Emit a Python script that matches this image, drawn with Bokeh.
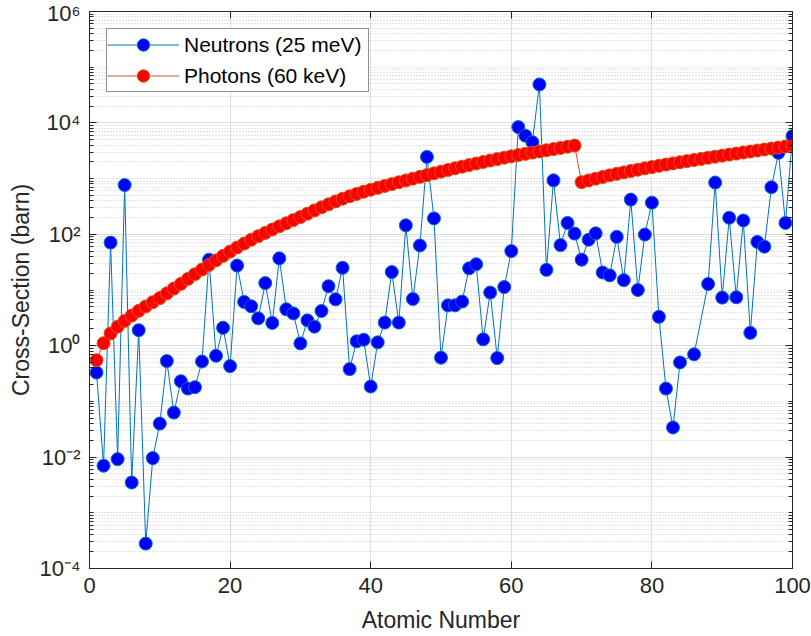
from bokeh.plotting import figure
from bokeh.models import (FixedTicker, LogAxis, LinearAxis, Legend, LegendItem,
                          CustomLabelingPolicy)
from bokeh.embed import file_html
from bokeh.resources import INLINE

# ---- data ----
neutron_z = list(range(1, 85)) + [86] + list(range(88, 101))
neutron_xs = [
    0.33, 0.007, 71, 0.0092, 767, 0.0035, 1.9, 0.00028, 0.0096, 0.04,
    0.53, 0.063, 0.23, 0.17, 0.18, 0.52, 35, 0.66, 2.1, 0.43,
    27.5, 6.1, 5.1, 3.1, 13.3, 2.56, 37, 4.5, 3.8, 1.1,
    2.85, 2.2, 4.2, 11.7, 6.8, 25, 0.38, 1.2, 1.28, 0.185,
    1.15, 2.6, 21, 2.6, 145, 6.9, 63, 2450, 193, 0.61,
    5.3, 5.3, 6.2, 24.5, 29, 1.3, 9, 0.6, 11.3, 50,
    8400, 5900, 4500, 49000, 23, 930, 64, 160, 103, 35,
    80, 104, 20.6, 18.3, 90, 15, 420, 10, 99, 370,
    3.3, 0.17, 0.034, 0.5,
    0.7,
    12.8, 850, 7.3, 198, 7.4, 177, 1.7, 73, 60, 700,
    2900, 160, 5800,
]

photon_z = list(range(1, 101))
photon_xs = [
    0.55, 1.11, 1.66, 2.19, 2.79, 3.47, 4.22, 5.07, 6.03, 7.16,
    8.71, 10.6, 12.9, 15.8, 19.2, 23.3, 28.2, 34.0, 40.9, 49.0,
    57.9, 68.2, 79.8, 92.3, 106, 122, 139, 158, 180, 204,
    234, 268, 305, 345, 389, 435, 482, 531, 581, 631,
    682, 738, 796, 859, 927, 998, 1074, 1156, 1242, 1334,
    1429, 1531, 1637, 1750, 1866, 1986, 2113, 2244, 2377, 2512,
    2649, 2786, 2931, 3076, 3228, 3388, 3556, 3733, 3917, 863,
    929, 998, 1069, 1143, 1216, 1291, 1368, 1445, 1528, 1611,
    1698, 1786, 1875, 1968, 2061, 2158, 2259, 2366, 2472, 2582,
    2698, 2818, 2938, 3062, 3192, 3327, 3467, 3614, 3767, 3926,
]

x_ticks = [0, 20, 40, 60, 80, 100]
y_ticks = [1e-4, 1e-2, 1.0, 1e2, 1e4, 1e6]
y_tick_labels = ["10\u207b\u2074", "10\u207b\u00b2", "10\u2070", "10\u00b2", "10\u2074", "10\u2076"]

# ---- style ----
FONT = "Liberation Sans"
AX = "#262626"

y_minor = []
for k in range(-4, 6):
    for m in range(1, 10):
        if m == 1 and k % 2 == 0:
            continue
        y_minor.append(m * 10.0 ** k)

p = figure(width=811, height=636, y_axis_type="log",
           x_range=(0, 100), y_range=(1e-4, 1e6),
           output_backend="svg", toolbar_location=None,
           min_border_left=89, min_border_right=19,
           min_border_top=11, min_border_bottom=68,
           background_fill_color="white", border_fill_color="white")

p.outline_line_color = AX
p.outline_line_width = 1

xt = FixedTicker(ticks=x_ticks)
yt = FixedTicker(ticks=y_ticks, minor_ticks=y_minor)

p.xaxis.ticker = xt
p.yaxis.ticker = yt
p.yaxis.major_label_overrides = {v: s for v, s in zip(y_ticks, y_tick_labels)}

for ax in (p.xaxis[0], p.yaxis[0]):
    ax.axis_line_color = AX
    ax.major_tick_line_color = AX
    ax.minor_tick_line_color = AX
    ax.major_tick_in = 7
    ax.major_tick_out = 0
    ax.major_label_text_font = FONT
    ax.major_label_text_font_size = "22px"
    ax.major_label_text_color = AX
    ax.axis_label_text_font = FONT
    ax.axis_label_text_font_size = "23px"
    ax.axis_label_text_font_style = "normal"
    ax.axis_label_text_color = AX

p.xaxis.minor_tick_in = 0
p.xaxis.minor_tick_out = 0
p.yaxis.minor_tick_in = 4
p.yaxis.minor_tick_out = 0
p.xaxis.axis_label = "Atomic Number"
p.yaxis.axis_label = "Cross-Section (barn)"
p.xaxis.major_label_standoff = 9
p.xaxis.axis_label_standoff = 11
p.yaxis.major_label_standoff = 9
p.yaxis.axis_label_standoff = 3

right = LogAxis(ticker=yt, major_label_text_font_size="1px", major_label_standoff=0,
                major_label_policy=CustomLabelingPolicy(code=""),
                axis_line_color=AX, major_tick_line_color=AX, minor_tick_line_color=AX,
                major_tick_in=7, major_tick_out=0, minor_tick_in=4, minor_tick_out=0)
top = LinearAxis(ticker=xt, major_label_text_font_size="1px", major_label_standoff=0,
                 major_label_policy=CustomLabelingPolicy(code=""),
                 axis_line_color=AX, major_tick_line_color=AX,
                 major_tick_in=7, major_tick_out=0, minor_tick_in=0, minor_tick_out=0)
p.add_layout(right, "right")
p.add_layout(top, "above")

p.xgrid.ticker = xt
p.ygrid.ticker = yt
p.xgrid.grid_line_color = "#DEDEDE"
p.ygrid.grid_line_color = "#DEDEDE"
p.ygrid.minor_grid_line_color = "#CACACA"
p.ygrid.minor_grid_line_dash = "1 2"
p.xgrid.minor_grid_line_color = None

# ---- series ----
n_line = p.line(neutron_z, neutron_xs, line_color="#0072BD", line_width=1)
n_pts = p.scatter(neutron_z, neutron_xs, size=13, fill_color="#0000FF",
                  line_color="#0072BD", line_width=1)
p_line = p.line(photon_z, photon_xs, line_color="#D95319", line_width=1)
p_pts = p.scatter(photon_z, photon_xs, size=13, fill_color="#FF0000",
                  line_color="#D95319", line_width=1)

legend = Legend(items=[
    LegendItem(label="Neutrons (25 meV)", renderers=[n_line, n_pts]),
    LegendItem(label="Photons (60 keV)", renderers=[p_line, p_pts]),
], location="top_left")
legend.margin = 17
legend.padding = 0
legend.spacing = -4
legend.glyph_height = 31
legend.glyph_width = 72
legend.label_standoff = 5
legend.label_width = 184
legend.label_text_font = FONT
legend.label_text_font_size = "21px"
legend.label_text_color = "black"
legend.border_line_color = AX
legend.border_line_width = 1
legend.background_fill_color = "white"
legend.background_fill_alpha = 1.0
p.add_layout(legend, "center")

open("out.html", "w").write(file_html(p, INLINE))
